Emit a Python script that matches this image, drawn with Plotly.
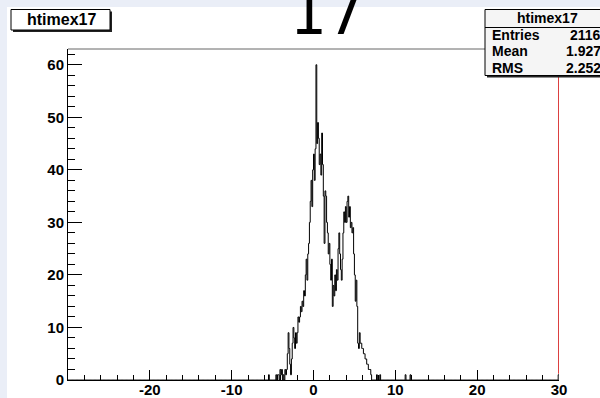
import plotly.graph_objects as go

# Histogram binning: 600 bins of width 0.1 on [-30, 30]
x_lo, x_hi = -30.0, 30.0
bin_width = 0.1

# Filled bins, consecutive, starting at lower edge -5.5
core_first_edge = -5.5
core_counts = [
    1, 0, 0, 0, 0, 0, 0, 0, 0, 1, 0, 1, 1, 0, 2, 1, 2, 0, 1, 0,     # -5.5 .. -3.6
    2, 1, 2, 5, 9, 6, 3, 1, 4, 7, 10, 8, 6, 9, 7, 9,               # -3.5 .. -2.0
    12, 11, 12, 14, 13, 15, 14, 17, 16, 20,                         # -1.9 .. -1.0
    23, 19, 24, 26, 30, 34, 38, 33, 40, 43,                         # -0.9 .. 0.0
    38, 44, 60, 45, 49, 46, 41, 43, 39, 47,                         # 0.1 .. 1.0
    41, 35, 26, 36, 35, 30, 28, 24, 26, 22,                         # 1.1 .. 2.0
    19, 23, 14, 18, 16, 20, 17, 21, 19, 25,                         # 2.1 .. 3.0
    28, 24, 21, 19, 23, 28, 32, 30, 33, 30,                         # 3.1 .. 4.0
    34, 35, 31, 33, 29, 30, 28, 29, 24, 20,                         # 4.1 .. 5.0
    15, 19, 14, 7, 6, 9, 7, 7, 6, 6,                                # 5.1 .. 6.0
    5, 5, 4, 4, 3, 3, 2, 2, 2, 1,                                   # 6.1 .. 7.0
]
# Isolated bins outside the core (lower edges and counts)
extra_edges = [7.7, 8.1, 11.2, 11.8, 29.9]
extra_counts = [1, 1, 1, 1, 1]

hist_name = "htimex17"
title_text = "17"
stat_labels = ["Entries", "Mean", "RMS"]
stat_values = ["2116", "1.927", "2.252"]

x_tickvals = [-20, -10, 0, 10, 20, 30]
x_ticktext = ["-20", "-10", "0", "10", "20", "30"]
y_tickvals = [0, 10, 20, 30, 40, 50, 60]
y_max = 63.0

# Assemble the full bin array
n_bins = int(round((x_hi - x_lo) / bin_width))
counts = [0] * n_bins
k0 = int(round((core_first_edge - x_lo) / bin_width))
for i, c in enumerate(core_counts):
    counts[k0 + i] = c
for e, c in zip(extra_edges, extra_counts):
    counts[int(round((e - x_lo) / bin_width))] = c
edges = [x_lo + i * bin_width for i in range(n_bins + 1)]

# Frame geometry in pixels
W_PX, H_PX = 600, 398
L, R, T, B = 68, 559, 49, 380


def px(x):
    return (x - L) / (R - L)


def py(y):
    return (B - y) / (B - T)


fig = go.Figure()
fig.add_trace(go.Scatter(
    x=edges, y=counts + [counts[-1]], mode="lines",
    line=dict(color="black", width=1, shape="hv"),
    hoverinfo="skip", showlegend=False,
))

bold = dict(family="Liberation Sans, Arial, sans-serif", size=14, color="black", weight="bold")

shapes = [
    # canvas strip around the pad
    dict(type="rect", xref="paper", yref="paper", x0=px(-5), x1=px(W_PX + 5), y0=py(-5), y1=py(H_PX + 5),
         fillcolor="#eaeef7", line=dict(width=0), layer="below"),
    dict(type="rect", xref="paper", yref="paper", x0=px(7), x1=px(W_PX + 5), y0=py(7), y1=py(H_PX + 5),
         fillcolor="white", line=dict(width=0), layer="below"),
    # frame top
    dict(type="line", xref="paper", yref="paper", x0=0, x1=1, y0=1, y1=1,
         line=dict(color="#666666", width=1)),
    # red marker at the upper edge of the range
    dict(type="line", xref="x", yref="y", x0=x_hi, x1=x_hi, y0=1.2, y1=y_max,
         line=dict(color="#d00000", width=1.5)),
    # title box shadow and body
    dict(type="rect", xref="paper", yref="paper", x0=px(13), x1=px(112), y0=py(11.5), y1=py(32),
         fillcolor="#222222", line=dict(width=0)),
    dict(type="rect", xref="paper", yref="paper", x0=px(11), x1=px(110), y0=py(9.5), y1=py(30),
         fillcolor="white", line=dict(color="black", width=1)),
    # stats box shadow and body
    dict(type="rect", xref="paper", yref="paper", x0=px(487), x1=px(610), y0=py(11), y1=py(77.5),
         fillcolor="#222222", line=dict(width=0)),
    dict(type="rect", xref="paper", yref="paper", x0=px(485), x1=px(608), y0=py(9.5), y1=py(75.5),
         fillcolor="#f5f5f5", line=dict(color="black", width=1)),
    dict(type="line", xref="paper", yref="paper", x0=px(485), x1=px(608), y0=py(27.5), y1=py(27.5),
         line=dict(color="black", width=1)),
]

annotations = [
    dict(text=title_text, xref="paper", yref="paper", x=px(327), y=py(14.5), xanchor="center",
         yanchor="middle", showarrow=False,
         font=dict(family="DejaVu Sans", size=58, color="black")),
    dict(text=hist_name, xref="paper", yref="paper", x=px(61), y=py(20), xanchor="center",
         yanchor="middle", showarrow=False, font=dict(bold, size=16)),
    dict(text=hist_name, xref="paper", yref="paper", x=px(547), y=py(18), xanchor="center",
         yanchor="middle", showarrow=False, font=dict(bold, size=14)),
]
for i, (lab, val) in enumerate(zip(stat_labels, stat_values)):
    yc = 34.5 + 16.8 * i
    annotations.append(dict(text=lab, xref="paper", yref="paper", x=px(490), y=py(yc),
                            xanchor="left", yanchor="middle", showarrow=False, font=dict(bold, size=14)))
    annotations.append(dict(text=val, xref="paper", yref="paper", x=px(603), y=py(yc),
                            xanchor="right", yanchor="middle", showarrow=False, font=dict(bold, size=14)))

fig.update_layout(
    width=W_PX, height=H_PX,
    margin=dict(l=L, r=W_PX - R, t=T, b=H_PX - B, pad=0),
    paper_bgcolor="white", plot_bgcolor="rgba(0,0,0,0)",
    shapes=shapes, annotations=annotations, showlegend=False,
    xaxis=dict(range=[x_lo, x_hi], tickvals=x_tickvals, ticktext=x_ticktext,
               ticks="inside", ticklen=10,
               tickcolor="black", tickwidth=1, showgrid=False, zeroline=False, automargin=False,
               ticklabelstandoff=-4,
               showline=True, linecolor="black", linewidth=1, tickfont=dict(bold, size=15),
               minor=dict(dtick=2, tick0=0, ticks="inside", ticklen=5, tickcolor="black", showgrid=False)),
    yaxis=dict(range=[0, y_max], tickvals=y_tickvals, ticks="inside", ticklen=14,
               tickcolor="black", tickwidth=1, showgrid=False, zeroline=False, automargin=False,
               showline=True, linecolor="black", linewidth=1, tickfont=dict(bold, size=15),
               minor=dict(dtick=2, tick0=0, ticks="inside", ticklen=7, tickcolor="black", showgrid=False)),
)

fig.write_html("out.html")
